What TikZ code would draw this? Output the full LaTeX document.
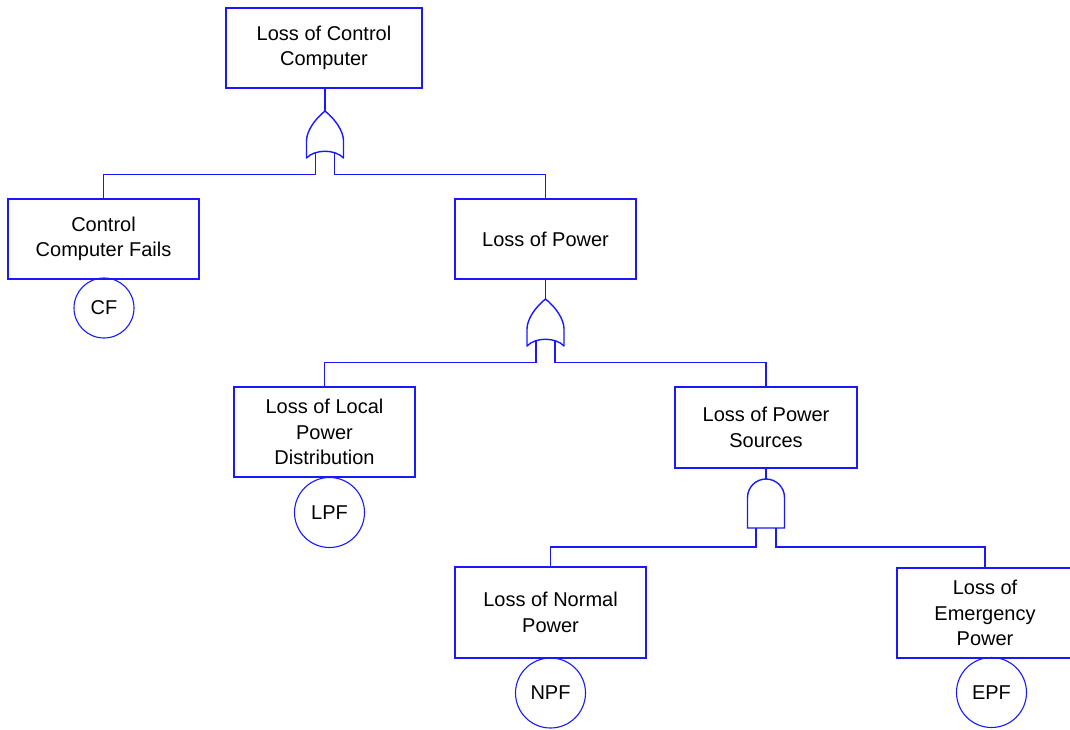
\documentclass[tikz,border=0pt]{standalone}
\usepackage{fontspec}
\setmainfont{Liberation Sans}
\definecolor{ftblue}{RGB}{25,25,255}
\tikzset{
  fbox/.style={draw=ftblue, line width=1.4pt, rectangle, inner sep=0pt, align=center,
               font=\fontsize{20}{25.5}\selectfont, text=black},
  evt/.style={draw=ftblue, line width=1.1pt, circle, inner sep=0pt, minimum size=#1,
              font=\fontsize{20}{24}\selectfont, text=black},
  conn/.style={draw=ftblue, line width=1.4pt},
  orgate/.pic={
    \draw[conn, line join=round] (0,0) .. controls (10,8) and (18.5,20) .. (18.5,30) -- (18.5,47)
      .. controls (10,38) and (-10,38) .. (-18.5,47) -- (-18.5,30)
      .. controls (-18.5,20) and (-10,8) .. (0,0) -- cycle;
    \coordinate (-in) at (0,0);
    \coordinate (-L) at (-9.5,41.6);
    \coordinate (-R) at (9.5,41.6);
  },
  andgate/.pic={
    \draw[conn] (-18.5,49) -- (-18.5,18.5) .. controls (-18.5,8.3) and (-10.2,0) .. (0,0)
      .. controls (10.2,0) and (18.5,8.3) .. (18.5,18.5) -- (18.5,49) -- cycle;
    \coordinate (-in) at (0,0);
    \coordinate (-L) at (-10,49);
    \coordinate (-R) at (10,49);
  }
}
\begin{document}
\begin{tikzpicture}[x=1pt, y=-1pt]
\useasboundingbox (0,0) rectangle (1070,730);
\clip (0,0) rectangle (1070,730);
\fill[white] (0,0) rectangle (1070,730);

% boxes
\node[fbox, minimum width=196pt, minimum height=80pt] (top) at (324,48) {Loss of Control\\Computer};
\node[fbox, minimum width=191pt, minimum height=80pt] (cf) at (103.5,239) {Control\\Computer Fails};
\node[fbox, minimum width=181pt, minimum height=80pt] (lop) at (545.5,239) {Loss of Power};
\node[fbox, minimum width=181pt, minimum height=90pt] (llpd) at (324.5,432) {Loss of Local\\Power\\Distribution};
\node[fbox, minimum width=182pt, minimum height=81pt] (lps) at (766,427.5) {Loss of Power\\Sources};
\node[fbox, minimum width=191pt, minimum height=91pt] (lnp) at (550.5,612.5) {Loss of Normal\\Power};
\node[fbox, minimum width=176pt, minimum height=90pt] (lep) at (985,613) {Loss of\\Emergency\\Power};

% basic events
\node[evt=60pt] (cfc) at (104,308) {CF};
\node[evt=70pt] (lpfc) at (329.5,512.5) {LPF};
\node[evt=70pt] (npfc) at (550.5,693) {NPF};
\node[evt=70pt] (epfc) at (991.5,692.5) {EPF};

% gates
\pic (g1) at (325,111) {orgate};
\pic (g2) at (545.5,299) {orgate};
\pic (g3) at (766,479) {andgate};

% connectors
\draw[conn] (top.south -| g1-in) -- (g1-in);
\draw[conn] (g1-L) -- ++(0,22) -| (cf.north);
\draw[conn] (g1-R) -- ++(0,22) -| (lop.north);
\draw[conn] (lop.south -| g2-in) -- (g2-in);
\draw[conn] (g2-L) -- ++(0,22) -| (llpd.north);
\draw[conn] (g2-R) -- ++(0,22) -| (lps.north);
\draw[conn] (lps.south) -- (g3-in);
\draw[conn] (g3-L) -- ++(0,19) -| (lnp.north);
\draw[conn] (g3-R) -- ++(0,19) -| (lep.north);
\end{tikzpicture}
\end{document}
